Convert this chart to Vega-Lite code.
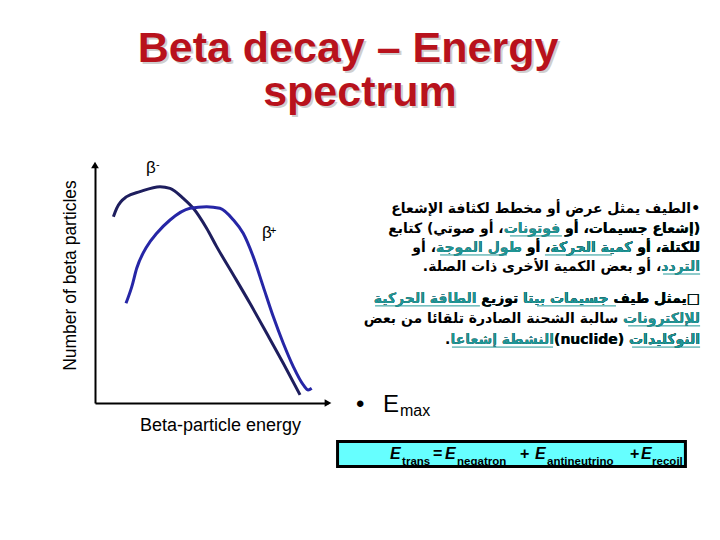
{
  "$schema": "https://vega.github.io/schema/vega-lite/v6.json",
  "width": 233,
  "height": 238,
  "autosize": {"type": "none"},
  "padding": {"left": 95, "top": 165, "right": 392, "bottom": 137},
  "background": "white",
  "config": {"view": {"stroke": null}, "font": "Liberation Sans"},
  "resolve": {"scale": {"color": "independent"}},
  "datasets": {
    "spectrum": [
      {"series": "β-", "x": 0.79, "y": 7.83},
      {"series": "β-", "x": 0.93, "y": 8.18},
      {"series": "β-", "x": 1.36, "y": 8.67},
      {"series": "β-", "x": 1.93, "y": 8.88},
      {"series": "β-", "x": 2.79, "y": 9.09},
      {"series": "β-", "x": 3.22, "y": 9.02},
      {"series": "β-", "x": 3.79, "y": 8.60},
      {"series": "β-", "x": 4.22, "y": 8.18},
      {"series": "β-", "x": 4.79, "y": 7.34},
      {"series": "β-", "x": 5.22, "y": 6.57},
      {"series": "β-", "x": 5.94, "y": 5.38},
      {"series": "β-", "x": 6.65, "y": 4.19},
      {"series": "β-", "x": 7.37, "y": 2.93},
      {"series": "β-", "x": 8.08, "y": 1.67},
      {"series": "β-", "x": 8.80, "y": 0.34},
      {"series": "β+", "x": 1.33, "y": 4.19},
      {"series": "β+", "x": 1.58, "y": 4.89},
      {"series": "β+", "x": 1.79, "y": 5.66},
      {"series": "β+", "x": 2.22, "y": 6.57},
      {"series": "β+", "x": 2.65, "y": 7.13},
      {"series": "β+", "x": 3.22, "y": 7.69},
      {"series": "β+", "x": 4.08, "y": 8.18},
      {"series": "β+", "x": 4.79, "y": 8.25},
      {"series": "β+", "x": 5.36, "y": 8.18},
      {"series": "β+", "x": 5.94, "y": 7.69},
      {"series": "β+", "x": 6.36, "y": 7.13},
      {"series": "β+", "x": 6.79, "y": 6.15},
      {"series": "β+", "x": 7.22, "y": 4.89},
      {"series": "β+", "x": 7.65, "y": 3.63},
      {"series": "β+", "x": 8.08, "y": 2.51},
      {"series": "β+", "x": 8.51, "y": 1.53},
      {"series": "β+", "x": 8.94, "y": 0.76},
      {"series": "β+", "x": 9.15, "y": 0.55},
      {"series": "β+", "x": 9.30, "y": 0.62}
    ],
    "heading": [
      {"label": "Beta decay – Energy", "x": 10.86, "y": 14.33},
      {"label": "spectrum", "x": 11.37, "y": 12.48}
    ],
    "beta_labels": [
      {"label": "β", "x": 2.19, "y": 9.66},
      {"label": "β", "x": 7.17, "y": 6.93}
    ],
    "beta_signs": [
      {"label": "-", "x": 2.62, "y": 9.87},
      {"label": "+", "x": 7.51, "y": 7.12}
    ],
    "arrow_x": [{"x": 10, "y": 0}],
    "arrow_y": [{"x": 0, "y": 10}],
    "arabic": [
      {"kind": "plain", "label": "\u202b•الطيف يمثل عرض أو مخطط لكثافة الإشعاع\u202c", "x": 25.97, "y": 7.98},
      {"kind": "plain", "label": "\u202b(إشعاع جسيمات، أو فوتونات، أو صوتي) كتابع\u202c", "x": 25.97, "y": 7.14},
      {"kind": "link", "label": "\u202b(إشعاع جسيمات، أو فوتونات\u202c", "x": 25.97, "y": 7.14},
      {"kind": "plain", "label": "\u202b(إشعاع جسيمات، أو\u202c", "x": 25.97, "y": 7.14},
      {"kind": "plain", "label": "\u202bللكتلة، أو كمية الحركة، أو طول الموجة، أو\u202c", "x": 25.97, "y": 6.34},
      {"kind": "link", "label": "\u202bللكتلة، أو كمية الحركة، أو طول الموجة\u202c", "x": 25.97, "y": 6.34},
      {"kind": "plain", "label": "\u202bللكتلة، أو كمية الحركة، أو\u202c", "x": 25.97, "y": 6.34},
      {"kind": "link", "label": "\u202bللكتلة، أو كمية الحركة\u202c", "x": 25.97, "y": 6.34},
      {"kind": "plain", "label": "\u202bللكتلة، أو\u202c", "x": 25.97, "y": 6.34},
      {"kind": "plain", "label": "\u202bالتردد، أو بعض الكمية الأخرى ذات الصلة.\u202c", "x": 25.97, "y": 5.55},
      {"kind": "link", "label": "\u202bالتردد\u202c", "x": 25.97, "y": 5.55},
      {"kind": "plain", "label": "\u202b□يمثل طيف جسيمات بيتا توزيع الطاقة الحركية\u202c", "x": 25.97, "y": 4.20},
      {"kind": "link", "label": "\u202b□يمثل طيف جسيمات بيتا توزيع الطاقة الحركية\u202c", "x": 25.97, "y": 4.20},
      {"kind": "plain", "label": "\u202b□يمثل طيف جسيمات بيتا توزيع\u202c", "x": 25.97, "y": 4.20},
      {"kind": "link", "label": "\u202b□يمثل طيف جسيمات بيتا\u202c", "x": 25.97, "y": 4.20},
      {"kind": "plain", "label": "\u202b□يمثل طيف\u202c", "x": 25.97, "y": 4.20},
      {"kind": "plain", "label": "\u202bللإلكترونات سالبة الشحنة الصادرة تلقائا من بعض\u202c", "x": 25.97, "y": 3.36},
      {"kind": "link", "label": "\u202bللإلكترونات\u202c", "x": 25.97, "y": 3.36},
      {"kind": "plain", "label": "\u202bالنوكليدات  (nuclide)النشطة إشعاعا.\u202c", "x": 25.97, "y": 2.48},
      {"kind": "link", "label": "\u202bالنوكليدات  (nuclide)النشطة إشعاعا\u202c", "x": 25.97, "y": 2.48},
      {"kind": "plain", "label": "\u202bالنوكليدات  (nuclide)\u202c", "x": 25.97, "y": 2.48},
      {"kind": "link", "label": "\u202bالنوكليدات\u202c", "x": 25.97, "y": 2.48}
    ],
    "underline": [
      {"x": 17.81, "x2": 20.04, "y": 7.02},
      {"x": 19.31, "x2": 22.19, "y": 6.22},
      {"x": 14.81, "x2": 17.68, "y": 6.22},
      {"x": 24.38, "x2": 25.97, "y": 5.42},
      {"x": 18.97, "x2": 22.36, "y": 4.08},
      {"x": 12.02, "x2": 16.52, "y": 4.08},
      {"x": 22.88, "x2": 25.97, "y": 3.24},
      {"x": 23.05, "x2": 25.97, "y": 2.35},
      {"x": 15.32, "x2": 19.66, "y": 2.35}
    ],
    "emax_big": [
      {"label": "•", "x": 11.2, "y": -0.38},
      {"label": "E", "x": 12.36, "y": -0.38}
    ],
    "emax_sub": [{"label": "max", "x": 13.09, "y": -0.55}],
    "box": [{"x": 10.41, "x2": 25.34, "y": -1.62, "y2": -2.67}],
    "eq_E": [
      {"label": "E", "x": 12.66, "y": -2.35},
      {"label": "E", "x": 15.02, "y": -2.35},
      {"label": "E", "x": 18.88, "y": -2.35},
      {"label": "E", "x": 23.43, "y": -2.35}
    ],
    "eq_ops": [
      {"label": "=", "x": 14.51, "y": -2.35},
      {"label": "+", "x": 18.24, "y": -2.35},
      {"label": "+", "x": 22.96, "y": -2.35}
    ],
    "eq_sub": [
      {"label": "trans", "x": 13.18, "y": -2.61},
      {"label": "negatron", "x": 15.54, "y": -2.61},
      {"label": "antineutrino", "x": 19.40, "y": -2.61},
      {"label": "recoil", "x": 23.91, "y": -2.61}
    ]
  },
  "encoding": {
    "x": {"field": "x", "type": "quantitative", "scale": {"domain": [0, 10]},
      "axis": {"domain": true, "domainColor": "black", "domainWidth": 2, "ticks": false, "labels": false, "grid": false,
        "title": "Beta-particle energy", "titleFont": "Liberation Sans", "titleFontSize": 18, "titleFontWeight": "normal",
        "titleColor": "black", "titleX": 125, "titleY": 27, "titleBaseline": "alphabetic", "titleAlign": "center"}},
    "y": {"field": "y", "type": "quantitative", "scale": {"domain": [0, 10]},
      "axis": {"domain": true, "domainColor": "black", "domainWidth": 2, "ticks": false, "labels": false, "grid": false,
        "title": "Number of beta particles", "titleFont": "Liberation Sans", "titleFontSize": 17.5, "titleFontWeight": "normal",
        "titleColor": "black", "titleX": -20, "titleY": 110, "titleBaseline": "alphabetic", "titleAlign": "center", "titleAngle": -90}}
  },
  "layer": [
    {
      "data": {"name": "box"},
      "mark": {"type": "rect", "fill": "#66ffff", "stroke": "black", "strokeWidth": 3, "clip": false},
      "encoding": {"x2": {"field": "x2"}, "y2": {"field": "y2"}}
    },
    {
      "data": {"name": "spectrum"},
      "mark": {"type": "line", "strokeWidth": 3, "interpolate": "monotone", "clip": false},
      "encoding": {
        "color": {"field": "series", "type": "nominal", "scale": {"domain": ["β-", "β+"], "range": ["#1e1e5e", "#2626a6"]}, "legend": null}
      }
    },
    {
      "data": {"name": "arrow_x"},
      "mark": {"type": "point", "shape": "triangle-right", "filled": true, "color": "black", "size": 60, "opacity": 1, "clip": false}
    },
    {
      "data": {"name": "arrow_y"},
      "mark": {"type": "point", "shape": "triangle-up", "filled": true, "color": "black", "size": 60, "opacity": 1, "clip": false}
    },
    {
      "data": {"name": "heading"},
      "mark": {"type": "text", "font": "Liberation Sans", "fontSize": 43, "fontWeight": "bold", "color": "#cfcfcf", "align": "center", "baseline": "alphabetic", "dx": 2, "dy": 2, "clip": false},
      "encoding": {"text": {"field": "label"}}
    },
    {
      "data": {"name": "heading"},
      "mark": {"type": "text", "font": "Liberation Sans", "fontSize": 43, "fontWeight": "bold", "color": "#b8121c", "align": "center", "baseline": "alphabetic", "clip": false},
      "encoding": {"text": {"field": "label"}}
    },
    {
      "data": {"name": "beta_labels"},
      "mark": {"type": "text", "font": "Liberation Sans", "fontSize": 17, "color": "black", "align": "left", "baseline": "alphabetic", "clip": false},
      "encoding": {"text": {"field": "label"}}
    },
    {
      "data": {"name": "beta_signs"},
      "mark": {"type": "text", "font": "Liberation Sans", "fontSize": 11, "color": "black", "align": "left", "baseline": "alphabetic", "clip": false},
      "encoding": {"text": {"field": "label"}}
    },
    {
      "data": {"name": "arabic"},
      "mark": {"type": "text", "font": "DejaVu Sans", "fontSize": 14, "fontWeight": "bold", "align": "right", "baseline": "alphabetic", "clip": false},
      "encoding": {
        "text": {"field": "label"},
        "color": {"field": "kind", "type": "nominal", "scale": {"domain": ["plain", "link"], "range": ["#000000", "#1f9696"]}, "legend": null}
      }
    },
    {
      "data": {"name": "underline"},
      "mark": {"type": "rule", "color": "#1f9696", "strokeWidth": 1, "clip": false},
      "encoding": {"x2": {"field": "x2"}}
    },
    {
      "data": {"name": "emax_big"},
      "mark": {"type": "text", "font": "Liberation Sans", "fontSize": 24, "color": "black", "align": "left", "baseline": "alphabetic", "clip": false},
      "encoding": {"text": {"field": "label"}}
    },
    {
      "data": {"name": "emax_sub"},
      "mark": {"type": "text", "font": "Liberation Sans", "fontSize": 16, "color": "black", "align": "left", "baseline": "alphabetic", "clip": false},
      "encoding": {"text": {"field": "label"}}
    },
    {
      "data": {"name": "eq_E"},
      "mark": {"type": "text", "font": "Liberation Sans", "fontSize": 16, "fontWeight": "bold", "fontStyle": "italic", "color": "black", "align": "left", "baseline": "alphabetic", "clip": false},
      "encoding": {"text": {"field": "label"}}
    },
    {
      "data": {"name": "eq_ops"},
      "mark": {"type": "text", "font": "Liberation Sans", "fontSize": 16, "fontWeight": "bold", "color": "black", "align": "left", "baseline": "alphabetic", "clip": false},
      "encoding": {"text": {"field": "label"}}
    },
    {
      "data": {"name": "eq_sub"},
      "mark": {"type": "text", "font": "Liberation Sans", "fontSize": 11.5, "fontWeight": "bold", "color": "black", "align": "left", "baseline": "alphabetic", "clip": false},
      "encoding": {"text": {"field": "label"}}
    }
  ]
}
